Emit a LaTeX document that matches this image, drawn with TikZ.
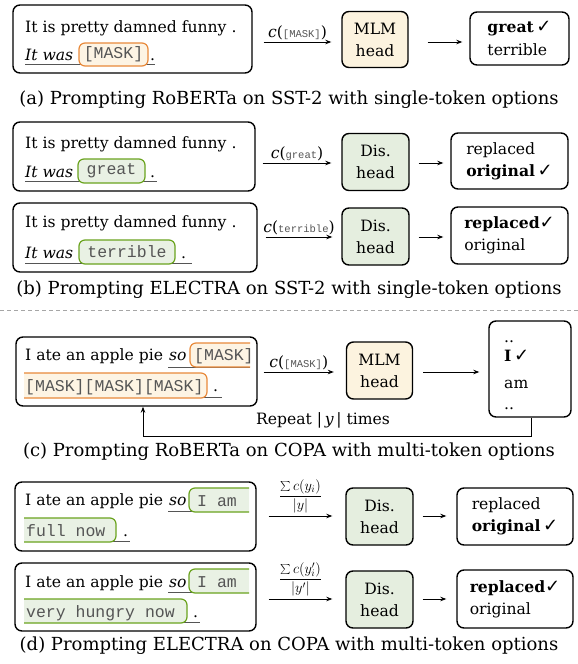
\documentclass[tikz,border=0pt]{standalone}
\usepackage{fontspec}
\setmainfont{DejaVu Serif}
\setmonofont{Liberation Mono}
\newfontfamily\chkfont{DejaVu Sans}
\usetikzlibrary{arrows.meta}
\definecolor{orgline}{HTML}{E8893A}
\definecolor{orgfill}{HTML}{FDF4E4}
\definecolor{grnline}{HTML}{6AA31E}
\definecolor{grnfill}{HTML}{E9F1E4}
\definecolor{mlmfill}{HTML}{FCF3DF}
\definecolor{disfill}{HTML}{E5EEDF}
\definecolor{ulgray}{HTML}{555555}
\definecolor{tokgray}{HTML}{555555}
\newcommand\myfs{\fontsize{15.6}{22}\selectfont}
\newcommand\mycapfs{\fontsize{18}{22}\selectfont}
\newcommand\mytok{\fontsize{16.5}{18}\selectfont\ttfamily\color{tokgray}}
\newcommand\mytoksm{\fontsize{10.5}{12}\selectfont\ttfamily\color{tokgray}}
\newcommand\mychk{{\chkfont\bfseries\fontsize{18}{18}\selectfont ✓}}
\newcommand\clbl[1]{{\myfs\textit{c}(}{\mytoksm #1}{\myfs)}}
\tikzset{
 bx/.style={draw, line width=1.4pt, rounded corners=7pt, inner sep=0pt},
 mlm/.style={bx, fill=mlmfill, align=center, font=\myfs, minimum width=66pt, minimum height=56pt},
 dis/.style={bx, fill=disfill, align=center, font=\myfs, minimum width=67pt, minimum height=57pt},
 outb/.style={bx, align=left, font=\myfs},
 txt/.style={inner sep=0pt, font=\myfs, anchor=base west},
 hlO/.style={draw=orgline, fill=orgfill, line width=1.2pt, rounded corners=6pt, inner sep=0pt, font=\mytok},
 hlG/.style={draw=grnline, fill=grnfill, line width=1.2pt, rounded corners=6pt, inner sep=0pt, font=\mytok},
 hlOp/.style={draw=orgline, fill=orgfill, line width=1.2pt, rounded corners=6pt},
 hlGp/.style={draw=grnline, fill=grnfill, line width=1.2pt, rounded corners=6pt},
 ul/.style={draw=ulgray, line width=0.9pt},
 arr/.style={-{Stealth[length=6pt,width=4.5pt]}, line width=0.9pt},
 captxt/.style={font=\mycapfs, inner sep=0pt},
 reptxt/.style={font=\myfs, inner sep=0pt},
 lbl/.style={inner sep=0pt, above=2pt},
 frac/.style={lbl, font=\fontsize{14}{16}\selectfont},
}
\begin{document}
\begin{tikzpicture}[x=1pt,y=-1pt]
\useasboundingbox (0,0) rectangle (578,664);
% ---------------- (a)
\node[bx, minimum width=239pt, minimum height=68pt] (inA) at (132.5,39) {};
\node[txt] (a1) at (25,32) {It is pretty damned funny .};
\node[txt] (a2) at (25,60) {\itshape It was};
\draw[ul] (25,64) -- (155,64);
\node[hlO, minimum width=69pt, minimum height=23pt] (mA) at (113.5,54.5) {[MASK]};
\node[txt] (a3) at (150,60) {.};
\node[mlm] (hA) at (375,39.5) {MLM\\head};
\node[outb, minimum width=99pt, minimum height=53pt] (oA) at (519.5,38.5) {\textbf{great}\,\mychk\\[1pt]terrible};
\draw[arr] ([xshift=11pt,yshift=-3pt]inA.east) -- node[lbl]{\clbl{[MASK]}} ([xshift=-10pt,yshift=-2.5pt]hA.west);
\draw[arr] ([xshift=19pt,yshift=-2.5pt]hA.east) -- ([xshift=-7pt,yshift=-3.5pt]oA.west);
\node[captxt] (capA) at (289,100) {(a) Prompting RoBERTa on SST-2 with single-token options};
% ---------------- (b)
\node[bx, minimum width=242pt, minimum height=69pt] (inB1) at (134,156.5) {};
\node[txt] (b11) at (25,148) {It is pretty damned funny .};
\node[txt] (b12) at (25,177) {\itshape It was};
\draw[ul] (25,181) -- (157,181);
\node[hlG, minimum width=67pt, minimum height=24pt] (gB1) at (111.5,171) {great};
\node[txt] (b13) at (150,177) {.};
\node[dis] (hB1) at (375.5,162) {Dis.\\head};
\node[outb, minimum width=117pt, minimum height=56pt] (oB1) at (509.5,161) {replaced\\\textbf{original}\,\mychk};
\draw[arr] ([xshift=7pt,yshift=-6.5pt]inB1.east) -- node[lbl]{\clbl{great}} ([xshift=-10pt,yshift=-1pt]hB1.west);
\draw[arr] ([xshift=9pt,yshift=-1pt]hB1.east) -- ([xshift=-7pt,yshift=-2pt]oB1.west);
\node[bx, minimum width=244pt, minimum height=69pt] (inB2) at (135,237.5) {};
\node[txt] (b21) at (25,227) {It is pretty damned funny .};
\node[txt] (b22) at (25,258) {\itshape It was};
\draw[ul] (25,263) -- (192,263);
\node[hlG, minimum width=96pt, minimum height=24pt] (gB2) at (127,252) {terrible};
\node[txt] (b23) at (181,258) {.};
\node[dis] (hB2) at (375.5,236.5) {Dis.\\head};
\node[outb, minimum width=117pt, minimum height=57pt] (oB2) at (509.5,235.5) {\textbf{replaced}\mychk\\original};
\draw[arr] ([xshift=8pt,yshift=0.5pt]inB2.east) -- node[lbl]{\clbl{terrible}} ([xshift=-9pt,yshift=-0.5pt]hB2.west);
\draw[arr] ([xshift=9pt,yshift=-0.5pt]hB2.east) -- ([xshift=-7pt,yshift=-1.5pt]oB2.west);
\node[captxt] (capB) at (289,290) {(b) Prompting ELECTRA on SST-2 with single-token options};
% ---------------- separator
\coordinate (sepL) at (0,310);
\coordinate (sepR) at (578,310);
\draw[gray!70, line width=0.8pt, dash pattern=on 4pt off 3pt] (sepL) -- (sepR);
% ---------------- (c)
\node[bx, minimum width=241pt, minimum height=69pt] (inC) at (136.5,371.5) {};
\node[txt] (c1) at (25,360) {I ate an apple pie};
\node[txt] (c2) at (169,360) {\itshape so};
\draw[ul] (168,367) -- (250,367);
\path[hlOp] (250,343) -- (190,343) -- (190,367) -- (250,367);
\node[txt, font=\mytok] (cm1) at (194,360) {[MASK]};
\draw[ul] (24,397) -- (222,397);
\path[hlOp] (24,373) -- (207,373) -- (207,398) -- (24,398);
\node[txt, font=\mytok] (cm2) at (25,391) {[MASK][MASK][MASK]};
\node[txt] (c3) at (213,391) {.};
\node[mlm, minimum height=57pt] (hC) at (379.5,370.5) {MLM\\head};
\node[bx, minimum width=82pt, minimum height=96pt] (oC) at (530,369) {};
\node[txt] (oC1) at (504,342) {..};
\node[txt] (oC2) at (504,361) {\textbf{I}\,\mychk};
\node[txt] (oC3) at (504,388) {am};
\node[txt] (oC4) at (504,409) {..};
\draw[arr] ([xshift=6pt,yshift=-0.5pt]inC.east) -- node[lbl]{\clbl{[MASK]}} ([xshift=-12pt,yshift=-1.5pt]hC.west);
\draw[arr] ([xshift=10pt,yshift=-1.5pt]hC.east) -- ([xshift=-9pt,yshift=-3pt]oC.west);
\coordinate (rp) at (143,436);
\draw[arr] ([xshift=1pt]oC.south) |- (rp) -- (rp |- inC.south);
\node[reptxt] (rep) at (323,420) {Repeat |\,\textit{y}\,| times};
\node[captxt] (capC) at (289,452) {(c) Prompting RoBERTa on COPA with multi-token options};
% ---------------- (d)
\node[bx, minimum width=241pt, minimum height=69pt] (inD1) at (135.5,516.5) {};
\node[txt] (d11) at (25,505) {I ate an apple pie};
\node[txt] (d12) at (169,505) {\itshape so};
\draw[ul] (168,511) -- (248,511);
\path[hlGp] (249,488) -- (189,488) -- (189,512) -- (249,512);
\node[txt, font=\mytok] (dg1) at (197,506) {I am};
\draw[ul] (24,541) -- (130,541);
\path[hlGp] (24,518) -- (116,518) -- (116,542) -- (24,542);
\node[txt, font=\mytok] (dg2) at (26,536) {full now};
\node[txt] (d13) at (123,536) {.};
\node[dis] (hD1) at (379.5,516.5) {Dis.\\head};
\node[outb, minimum width=116pt, minimum height=57pt] (oD1) at (515,516.5) {replaced\\\textbf{original}\,\mychk};
\draw[arr] ([xshift=12pt,yshift=0.5pt]inD1.east) -- node[frac]{$\displaystyle\frac{\textstyle\sum c(y_i)}{|y|}$} ([xshift=-13pt,yshift=0.5pt]hD1.west);
\draw[arr] ([xshift=9pt,yshift=0.5pt]hD1.east) -- ([xshift=-10pt,yshift=0.5pt]oD1.west);
\node[bx, minimum width=241pt, minimum height=68pt] (inD2) at (135.5,597) {};
\node[txt] (d21) at (25,587) {I ate an apple pie};
\node[txt] (d22) at (169,587) {\itshape so};
\draw[ul] (168,592) -- (248,592);
\path[hlGp] (249,569) -- (189,569) -- (189,593) -- (249,593);
\node[txt, font=\mytok] (dg3) at (197,587) {I am};
\draw[ul] (24,622) -- (200,622);
\path[hlGp] (24,599) -- (187,599) -- (187,623) -- (24,623);
\node[txt, font=\mytok] (dg4) at (26,617) {very hungry now};
\node[txt] (d23) at (193,617) {.};
\node[dis] (hD2) at (379.5,599.5) {Dis.\\head};
\node[outb, minimum width=116pt, minimum height=58pt] (oD2) at (515,599) {\textbf{replaced}\mychk\\original};
\draw[arr] ([xshift=12pt,yshift=-2pt]inD2.east) -- node[frac]{$\displaystyle\frac{\textstyle\sum c(y'_i)}{|y'|}$} ([xshift=-13pt,yshift=0.5pt]hD2.west);
\draw[arr] ([xshift=9pt,yshift=0.5pt]hD2.east) -- ([xshift=-10pt]oD2.west);
\node[captxt] (capD) at (289,646) {(d) Prompting ELECTRA on COPA with multi-token options};
\end{tikzpicture}
\end{document}
